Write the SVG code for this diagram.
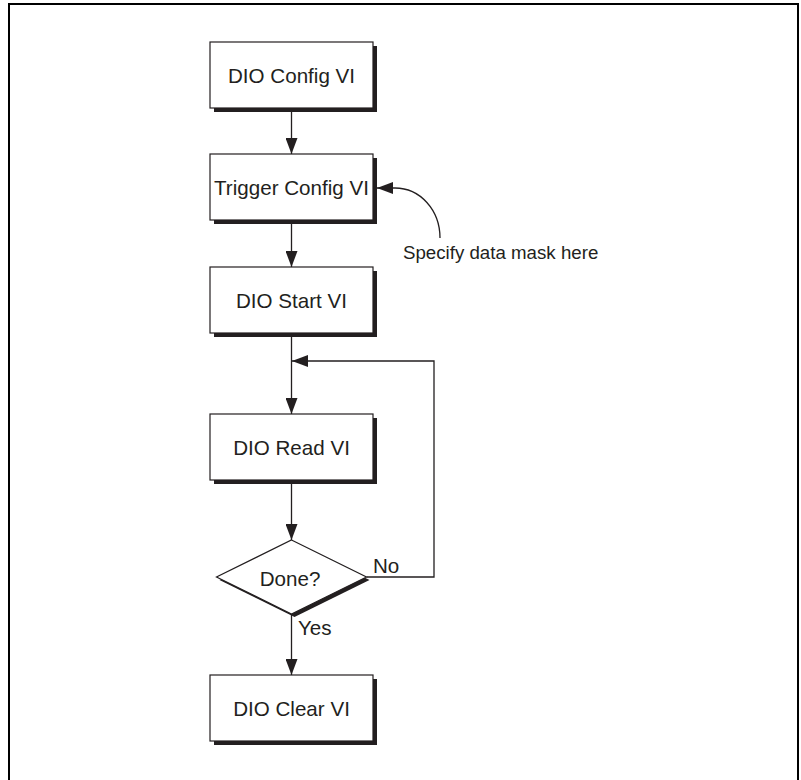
<svg xmlns="http://www.w3.org/2000/svg" width="801" height="780" viewBox="0 0 801 780">
<defs>
<style>
.box{fill:#fff;stroke:#231f20;stroke-width:1.2}
.sh{fill:#231f20}
.t{font-family:"Liberation Sans",Arial,sans-serif;font-size:20.6px;fill:#231f20}
.lbl{font-family:"Liberation Sans",Arial,sans-serif;font-size:18.7px;fill:#231f20}
.c{text-anchor:middle}
.ln{fill:none;stroke:#231f20;stroke-width:1.3}
</style>
<marker id="ah" viewBox="0 0 16 12" markerUnits="userSpaceOnUse" markerWidth="16" markerHeight="12" refX="16" refY="6" orient="auto">
<path d="M0,0 L16,6 L0,12 z" fill="#231f20"/>
</marker>
</defs>
<rect width="801" height="780" fill="#fff"/>
<path d="M9,780 V4 H798 V780" fill="none" stroke="#000" stroke-width="2"/>
<g id="connectors">
<line class="ln" x1="291.5" y1="108" x2="291.5" y2="154" marker-end="url(#ah)"/>
<line class="ln" x1="291.5" y1="220" x2="291.5" y2="267" marker-end="url(#ah)"/>
<line class="ln" x1="291.5" y1="333" x2="291.5" y2="414" marker-end="url(#ah)"/>
<line class="ln" x1="291.5" y1="480" x2="291.5" y2="540" marker-end="url(#ah)"/>
<line class="ln" x1="291.5" y1="614" x2="291.5" y2="675" marker-end="url(#ah)"/>
<path class="ln" d="M366.5,577 H434 V361 H292" marker-end="url(#ah)"/>
<path class="ln" d="M440,238 C440,210 420,188 395,188 L377,188" marker-end="url(#ah)"/>
</g>
<g id="dio-config">
<rect class="sh" x="214" y="46" width="163" height="66"/>
<rect class="box" x="210" y="42" width="163" height="66"/>
<text class="t c" x="291.5" y="83">DIO Config VI</text>
</g>
<g id="trigger-config">
<rect class="sh" x="214" y="158" width="163" height="66"/>
<rect class="box" x="210" y="154" width="163" height="66"/>
<text class="t c" x="291.5" y="195">Trigger Config VI</text>
</g>
<g id="dio-start">
<rect class="sh" x="214" y="271" width="163" height="66"/>
<rect class="box" x="210" y="267" width="163" height="66"/>
<text class="t c" x="291.5" y="308">DIO Start VI</text>
</g>
<g id="dio-read">
<rect class="sh" x="214" y="418" width="163" height="66"/>
<rect class="box" x="210" y="414" width="163" height="66"/>
<text class="t c" x="291.5" y="455">DIO Read VI</text>
</g>
<g id="done">
<polygon class="sh" points="294.5,543 369.5,580 294.5,617 219.5,580"/>
<polygon class="box" points="291.5,540 366.5,577 291.5,614 216.5,577"/>
<text class="t c" x="290" y="586">Done?</text>
</g>
<g id="dio-clear">
<rect class="sh" x="214" y="679" width="163" height="66"/>
<rect class="box" x="210" y="675" width="163" height="66"/>
<text class="t c" x="291.5" y="716">DIO Clear VI</text>
</g>
<g id="labels">
<text class="t" x="373" y="573">No</text>
<text class="t" x="298" y="635">Yes</text>
<text class="lbl" x="403" y="259">Specify data mask here</text>
</g>
</svg>
